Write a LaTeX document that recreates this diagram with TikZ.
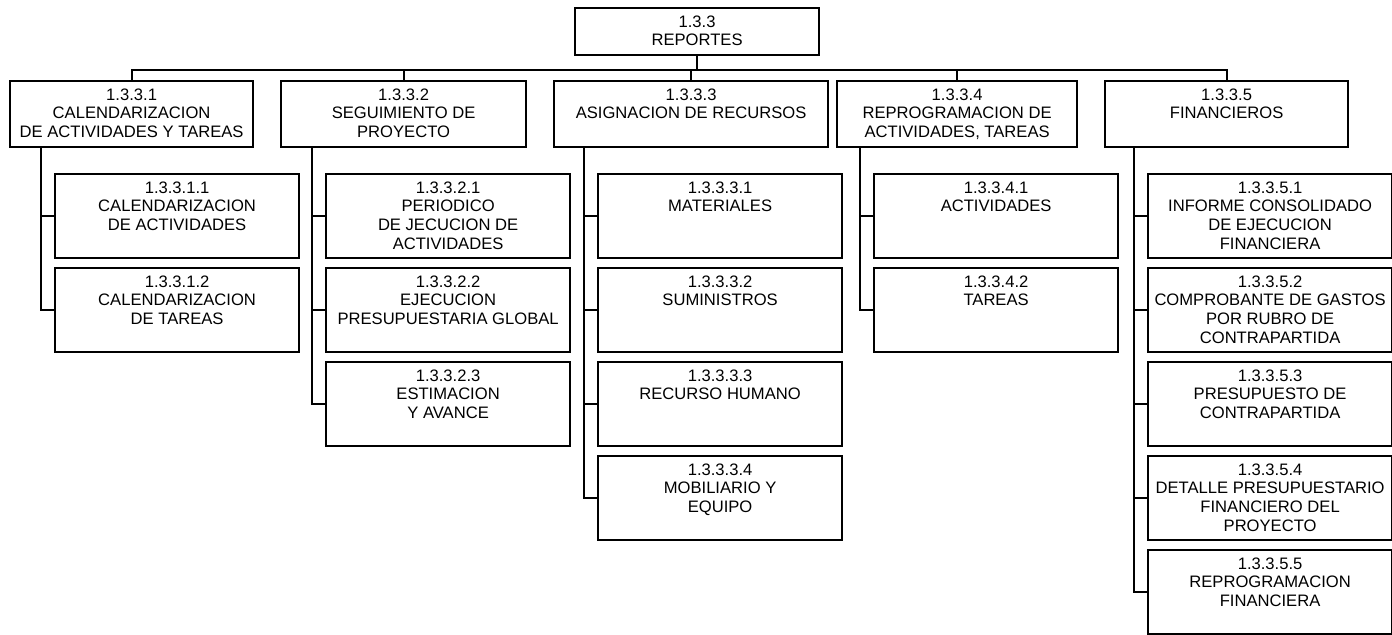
\documentclass[tikz,border=0pt]{standalone}
\usepackage{fontspec}
\setmainfont{Liberation Sans}
\usetikzlibrary{calc}

\begin{document}
\begin{tikzpicture}[
    x=0.5pt, y=-0.5pt,
    wbsbox/.style 2 args={draw, line width=1.1pt, inner sep=0pt, anchor=north west,
      font=\fontsize{8.3}{9.3}\selectfont,
      execute at begin node={\begin{minipage}[t][#2][t]{#1}\centering\vspace*{3.8pt}},
      execute at end node={\end{minipage}}},
    lvl/.style={wbsbox={#1}{33pt}},
    kid/.style={wbsbox={122pt}{42pt}},
    link/.style={line width=1.1pt}
  ]
  \useasboundingbox (0,0) rectangle (1392,634);

  % top of the tree
  \node[wbsbox={122pt}{23.5pt}] (root) at (574,7) {1.3.3\\REPORTES};

  % second level
  \node[lvl=121.5pt] (b1) at (9,80) {1.3.3.1\\CALENDARIZACION\\DE ACTIVIDADES Y TAREAS};
  \node[lvl=122.5pt] (b2) at (280,80) {1.3.3.2\\SEGUIMIENTO DE\\PROYECTO};
  \node[lvl=137pt] (b3) at (553,80) {1.3.3.3\\ASIGNACION DE RECURSOS};
  \node[lvl=120pt] (b4) at (836,80) {1.3.3.4\\REPROGRAMACION DE\\ACTIVIDADES, TAREAS};
  \node[lvl=121.5pt] (b5) at (1104,80) {1.3.3.5\\FINANCIEROS};

  % third level, one column per branch
  \node[kid] (c11) at (54,173) {1.3.3.1.1\\CALENDARIZACION\\DE ACTIVIDADES};
  \node[kid] (c12) at (54,267) {1.3.3.1.2\\CALENDARIZACION\\DE TAREAS};

  \node[kid] (c21) at (325,173) {1.3.3.2.1\\PERIODICO\\DE JECUCION DE\\ACTIVIDADES};
  \node[kid] (c22) at (325,267) {1.3.3.2.2\\EJECUCION\\PRESUPUESTARIA GLOBAL};
  \node[kid] (c23) at (325,361) {1.3.3.2.3\\ESTIMACION\\Y AVANCE};

  \node[kid] (c31) at (597,173) {1.3.3.3.1\\MATERIALES};
  \node[kid] (c32) at (597,267) {1.3.3.3.2\\SUMINISTROS};
  \node[kid] (c33) at (597,361) {1.3.3.3.3\\RECURSO HUMANO};
  \node[kid] (c34) at (597,455) {1.3.3.3.4\\MOBILIARIO Y\\EQUIPO};

  \node[kid] (c41) at (873,173) {1.3.3.4.1\\ACTIVIDADES};
  \node[kid] (c42) at (873,267) {1.3.3.4.2\\TAREAS};

  \node[kid] (c51) at (1147,173) {1.3.3.5.1\\INFORME CONSOLIDADO\\DE EJECUCION\\FINANCIERA};
  \node[kid] (c52) at (1147,267) {1.3.3.5.2\\COMPROBANTE DE GASTOS\\POR RUBRO DE\\CONTRAPARTIDA};
  \node[kid] (c53) at (1147,361) {1.3.3.5.3\\PRESUPUESTO DE\\CONTRAPARTIDA};
  \node[kid] (c54) at (1147,455) {1.3.3.5.4\\DETALLE PRESUPUESTARIO\\FINANCIERO DEL\\PROYECTO};
  \node[kid] (c55) at (1147,549) {1.3.3.5.5\\REPROGRAMACION\\FINANCIERA};

  % bus under the root
  \draw[link] (root.south) -- ++(0,14) coordinate (bus);
  \foreach \i in {1,...,5}
    \draw[link] (b\i.north) |- (bus);

  % spines down the left of each column
  \foreach \c/\n in {1/2,2/3,3/4,4/2,5/5} {
    \coordinate (s\c) at ($(c\c1.west)+(-13,0)$);
    \foreach \k in {1,...,\n}
      \draw[link] (s\c |- b\c.south) |- (c\c\k.west);
  }
\end{tikzpicture}
\end{document}
